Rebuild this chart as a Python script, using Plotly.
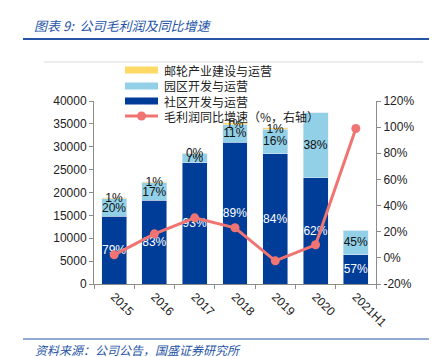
import plotly.graph_objects as go

years = ["2015", "2016", "2017", "2018", "2019", "2020", "2021H1"]
community = [14800, 18300, 26500, 31000, 28500, 23200, 6400]
park = [3800, 3780, 2000, 3850, 5300, 14200, 5400]
cruise = [200, 220, 100, 350, 300, 0, 0]
growth = [2.3, 18.4, 30.6, 23.0, -2.3, 10.0, 99.0]

community_lbl = ["79%", "83%", "93%", "89%", "84%", "62%", "57%"]
park_lbl = ["20%", "17%", "7%", "11%", "16%", "38%", "45%"]
cruise_lbl = ["1%", "1%", "0%", "1%", "1%", "", ""]

names = ["社区开发与运营", "园区开发与运营", "邮轮产业建设与运营", "毛利润同比增速（%，右轴）"]
y_ticks = [0, 5000, 10000, 15000, 20000, 25000, 30000, 35000, 40000]
y2_ticks = [-20, 0, 20, 40, 60, 80, 100, 120]
y2_text = ["-20%", "0%", "20%", "40%", "60%", "80%", "100%", "120%"]

DARK = "#003D98"
LIGHT = "#92D0E8"
YELLOW = "#FFD966"
RED = "#F07472"
BLUE = "#2655A6"
NUM_FONT = "Liberation Sans"
CJK_FONT = "Noto Sans CJK SC"

fig = go.Figure()
fig.add_trace(go.Bar(x=years, y=community, name=names[0], marker_color=DARK,
                     text=community_lbl, textposition="inside", insidetextanchor="middle", textangle=0,
                     textfont=dict(color="white", size=12, family=NUM_FONT), cliponaxis=False))
fig.add_trace(go.Bar(x=years, y=park, name=names[1], marker_color=LIGHT,
                     text=park_lbl, textposition="inside", insidetextanchor="middle", textangle=0,
                     textfont=dict(color="#111111", size=12, family=NUM_FONT), cliponaxis=False))
fig.add_trace(go.Bar(x=years, y=cruise, name=names[2], marker_color=YELLOW,
                     text=cruise_lbl, textposition="inside", insidetextanchor="middle", textangle=0,
                     textfont=dict(color="#111111", size=12, family=NUM_FONT), cliponaxis=False))
fig.add_trace(go.Scatter(x=years, y=growth, name=names[3], yaxis="y2",
                         mode="lines+markers", line=dict(color=RED, width=3),
                         marker=dict(color=RED, size=9), cliponaxis=False))

fig.update_layout(
    width=437, height=357,
    margin=dict(l=86, r=69, t=93, b=81),
    paper_bgcolor="white", plot_bgcolor="white",
    barmode="stack", bargap=0.38,
    uniformtext=dict(minsize=12, mode="show"),
    showlegend=False,
    xaxis=dict(type="category", showline=True, linecolor="#8C8C8C", linewidth=1,
               ticks="outside", tickson="boundaries", ticklen=4, tickcolor="#8C8C8C",
               tickangle=45, tickfont=dict(family=NUM_FONT, size=12, color="#222222"),
               showgrid=False),
    yaxis=dict(range=[0, 40000], tickvals=y_ticks, tickformat="d", showline=True, linecolor="#8C8C8C",
               ticks="outside", ticklen=4, tickcolor="#8C8C8C", showgrid=False, zeroline=False,
               tickfont=dict(family=NUM_FONT, size=12, color="#222222")),
    yaxis2=dict(range=[-20, 120], tickvals=y2_ticks, ticktext=y2_text, overlaying="y", side="right",
                showline=True, linecolor="#8C8C8C", ticks="outside", ticklen=4, tickcolor="#8C8C8C",
                showgrid=False, zeroline=False,
                tickfont=dict(family=NUM_FONT, size=12, color="#222222")),
)

def px_x(p):
    return (p - 86) / 282.0

def px_y(p):
    return (276 - p) / 183.0

shapes = [
    dict(type="line", xref="paper", yref="paper", x0=px_x(15), x1=px_x(437), y0=px_y(31), y1=px_y(31),
         line=dict(color=BLUE, width=2)),
    dict(type="line", xref="paper", yref="paper", x0=px_x(36), x1=px_x(415), y0=px_y(54), y1=px_y(54),
         line=dict(color="#D9D9D9", width=1)),
    dict(type="line", xref="paper", yref="paper", x0=px_x(15), x1=px_x(437), y0=px_y(331), y1=px_y(331),
         line=dict(color=BLUE, width=1)),
]

# legend drawn manually (order: yellow, light, dark, line)
legend_rows = [(names[2], YELLOW, 62), (names[1], LIGHT, 78), (names[0], DARK, 93), (names[3], RED, 108)]
for i, (label, color, cy) in enumerate(legend_rows):
    if i < 3:
        shapes.append(dict(type="rect", xref="paper", yref="paper",
                           x0=px_x(117), x1=px_x(150), y0=px_y(cy + 3.5), y1=px_y(cy - 3.5),
                           fillcolor=color, line=dict(width=0), layer="above"))
    else:
        shapes.append(dict(type="line", xref="paper", yref="paper",
                           x0=px_x(117), x1=px_x(150), y0=px_y(cy), y1=px_y(cy),
                           line=dict(color=color, width=3), layer="above"))
        shapes.append(dict(type="circle", xref="paper", yref="paper",
                           x0=px_x(129), x1=px_x(138), y0=px_y(cy + 4.5), y1=px_y(cy - 4.5),
                           fillcolor=color, line=dict(width=0), layer="above"))
    fig.add_annotation(text=label, xref="paper", yref="paper", x=px_x(154), y=px_y(cy),
                       xanchor="left", yanchor="middle", showarrow=False,
                       font=dict(family=CJK_FONT, size=12, color="#222222"))
fig.update_layout(shapes=shapes)

fig.add_annotation(text="图表 9:  公司毛利润及同比增速", xref="paper", yref="paper",
                   x=px_x(24), y=px_y(17), xanchor="left", yanchor="middle", showarrow=False,
                   font=dict(family=CJK_FONT, size=13, color=BLUE, style="italic"))
fig.add_annotation(text="资料来源：公司公告，国盛证券研究所", xref="paper", yref="paper",
                   x=px_x(25), y=px_y(341), xanchor="left", yanchor="middle", showarrow=False,
                   font=dict(family=CJK_FONT, size=12, color=BLUE, style="italic"))

fig.write_html("out.html")
